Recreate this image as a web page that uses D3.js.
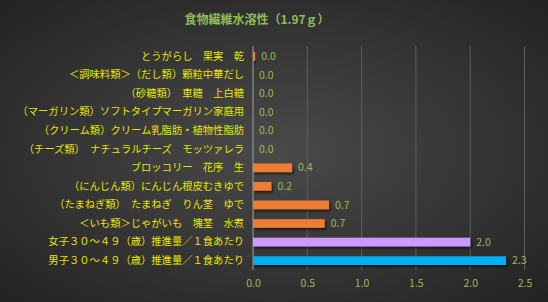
<!DOCTYPE html>
<html><head><meta charset="utf-8">
<script src="https://cdn.jsdelivr.net/npm/d3@7"></script>
<style>html,body{margin:0;padding:0;background:#333;}svg{display:block;}</style>
</head><body>
<script>
const categories = [
  "とうがらし　果実　乾",
  "＜調味料類＞（だし類）顆粒中華だし",
  "（砂糖類）　車糖　上白糖",
  "（マーガリン類）ソフトタイプマーガリン家庭用",
  "（クリーム類）クリーム乳脂肪・植物性脂肪",
  "（チーズ類）　ナチュラルチーズ　モッツァレラ",
  "ブロッコリー　花序　生",
  "（にんじん類）にんじん根皮むきゆで",
  "（たまねぎ類）　たまねぎ　りん茎　ゆで",
  "＜いも類＞じゃがいも　塊茎　水煮",
  "女子３０～４９（歳）推進量／１食あたり",
  "男子３０～４９（歳）推進量／１食あたり"
];
const values = [0.02, 0, 0, 0, 0, 0, 0.36, 0.17, 0.70, 0.66, 2.0, 2.33];
const barColors = ["#ED7D31","#ED7D31","#ED7D31","#ED7D31","#ED7D31","#ED7D31","#ED7D31","#ED7D31","#ED7D31","#ED7D31","#CC99FF","#00B0F0"];
const xTicks = [0, 0.5, 1.0, 1.5, 2.0, 2.5];
const title = "食物繊維水溶性（1.97ｇ）";

const W = 548, H = 302;
const svg = d3.select("body").append("svg").attr("width", W).attr("height", H);
const defs = svg.append("defs");
const rg = defs.append("radialGradient").attr("id","bg").attr("cx","50%").attr("cy","50%").attr("r","70%");
rg.append("stop").attr("offset","0%").attr("stop-color","#4a4a4a");
rg.append("stop").attr("offset","100%").attr("stop-color","#232323");
const f = defs.append("filter").attr("id","sh").attr("x","-10%").attr("y","-50%").attr("width","130%").attr("height","250%");
f.append("feDropShadow").attr("dx",1.5).attr("dy",2).attr("stdDeviation",1.2).attr("flood-color","#000").attr("flood-opacity",0.6);

svg.append("rect").attr("width",W).attr("height",H).attr("fill","url(#bg)");

const font = "'Noto Sans CJK JP', 'Noto Sans', sans-serif";
svg.append("text").attr("x", 257).attr("y", 24).attr("text-anchor","middle")
  .attr("font-family", font).attr("font-size", 12).attr("font-weight", "bold")
  .attr("fill", "#8DBF55").text(title);

const x = d3.scaleLinear().domain([0, 2.5]).range([253, 524.5]);
const y = d3.scaleBand().domain(categories).range([47, 270]).paddingInner(0.53).paddingOuter(0.27);

// gridlines
svg.append("g").selectAll("line").data(xTicks).join("line")
  .attr("x1", d => x(d)).attr("x2", d => x(d)).attr("y1", 46).attr("y2", 270)
  .attr("stroke", d => d === 0 ? "#a0a0a0" : "#5e5e5e").attr("stroke-width", 1);

// x axis
const xAxis = svg.append("g").attr("transform","translate(0,270)")
  .call(d3.axisBottom(x).tickValues(xTicks).tickFormat(d3.format(".1f")).tickSize(0).tickPadding(10));
xAxis.select(".domain").remove();
xAxis.selectAll("text").attr("font-family", font).attr("font-size", 10.5).attr("fill", "#9BBB59");

// y axis labels
const yAxis = svg.append("g").attr("transform","translate(253,0)")
  .call(d3.axisLeft(y).tickSize(0).tickPadding(9));
yAxis.select(".domain").remove();
yAxis.selectAll("text").attr("font-family", font).attr("font-size", 10.3).attr("fill", "#E6E600");

// bars
svg.append("g").selectAll("rect").data(values).join("rect")
  .attr("x", x(0)).attr("y", (d,i) => y(categories[i]))
  .attr("width", d => x(d) - x(0)).attr("height", y.bandwidth())
  .attr("fill", (d,i) => barColors[i]).attr("filter","url(#sh)");

// value labels
svg.append("g").selectAll("text").data(values).join("text")
  .attr("x", d => x(d) + 6).attr("y", (d,i) => y(categories[i]) + y.bandwidth()/2)
  .attr("dy","0.35em").attr("font-family", font).attr("font-size", 10.5).attr("fill", "#9BBB59")
  .text(d => d3.format(".1f")(d));
</script>
</body></html>
